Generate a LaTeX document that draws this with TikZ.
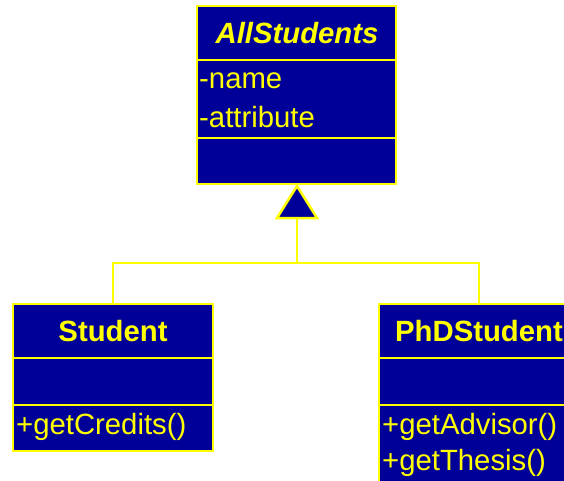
\documentclass[tikz,border=0pt]{standalone}
\usepackage{fontspec}
\setmainfont{Liberation Sans}
\definecolor{umlblue}{RGB}{0,0,153}
\definecolor{umlyellow}{RGB}{255,255,0}
\begin{document}
\begin{tikzpicture}[x=1pt,y=-1pt,
  classbox/.style={draw=umlyellow, fill=umlblue, line width=2.5pt, inner sep=0pt, rectangle},
  divider/.style={draw=umlyellow, line width=2pt},
  link/.style={draw=umlyellow, line width=1.6pt},
  title/.style={text=umlyellow, font=\fontsize{29.3}{35}\selectfont\bfseries, inner sep=0pt},
  member/.style={text=umlyellow, font=\fontsize{29.3}{35}\selectfont, inner sep=0pt, anchor=west}
]
\clip (0,0) rectangle (564,481);
\fill[white] (0,0) rectangle (564,481);

% AllStudents
\node[classbox, minimum width=199pt, minimum height=178pt] (all) at (296.5,95) {};
\draw[divider] (197,60) -- (396,60);
\draw[divider] (197,138) -- (396,138);
\node[title, font=\fontsize{29.3}{35}\selectfont\bfseries\itshape] (allt) at (297,33) {AllStudents};
\node[member] (alla) at (199,81) {-name};
\node[member] (allb) at (199,117) {-attribute};

% Student
\node[classbox, minimum width=200pt, minimum height=147pt] (stu) at (113,377.5) {};
\draw[divider] (13,358) -- (213,358);
\draw[divider] (13,405) -- (213,405);
\node[title] (stut) at (113,331) {Student};
\node[member] (stum) at (16,427) {+getCredits()};

% PhDStudent
\node[classbox, minimum width=200pt, minimum height=183pt] (phd) at (479,395.5) {};
\draw[divider] (379,358) -- (579,358);
\draw[divider] (379,405) -- (579,405);
\node[title] (phdt) at (479,331) {PhDStudent};
\node[member] (phdm1) at (382,427) {+getAdvisor()};
\node[member] (phdm2) at (382,463) {+getThesis()};

% generalization
\coordinate (tip) at (297,186);
\coordinate (base) at (297,218);
\coordinate (junc) at (297,263);
\draw[draw=umlyellow, fill=umlblue, line width=2.5pt, line join=miter] (tip) -- (277,218) -- (317,218) -- cycle;
\draw[link] (base) -- (junc);
\draw[link] (stu.north) |- (junc) -| (phd.north);
\end{tikzpicture}
\end{document}
